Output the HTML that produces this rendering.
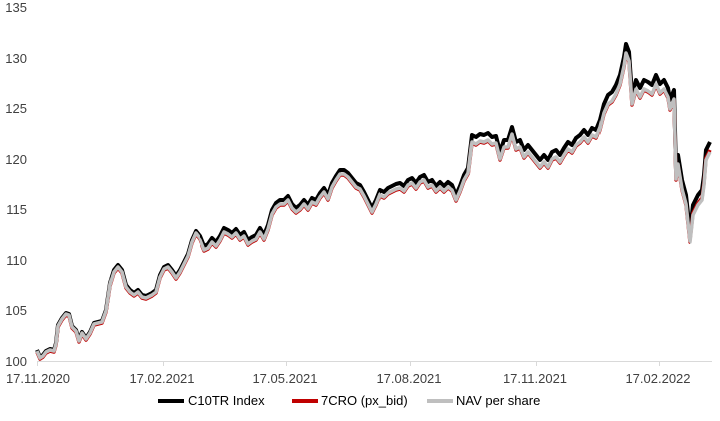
<!DOCTYPE html>
<html><head><meta charset="utf-8"><style>
body{margin:0;background:#fff;}
svg{display:block;font-family:"Liberation Sans",sans-serif;}
</style></head><body>
<svg width="720" height="421" xmlns="http://www.w3.org/2000/svg" xmlns:xlink="http://www.w3.org/1999/xlink">
<defs>
<path id="s" fill="none" stroke-linejoin="round" d="M37,350L40,357L43,355L46,351L50,349L54,350L56,343L58,325L62,318L66,313L69,314L72,326L76,330L79,340L82,332L86,338L90,332L94,323L98,322L102,321L106,310L110,283L114,270L118,265L122,270L126,285L130,290L134,293L138,290L142,295L146,296L152,293L156,290L160,275L164,267L168,265L172,270L176,276L180,270L184,262L188,254L192,240L196,231L200,236L204,246L208,244L212,238L216,242L220,236L224,228L228,230L232,233L236,229L240,235L244,232L248,240L252,237L256,235L260,228L264,235L268,225L272,210L276,203L280,200L284,200L288,196L292,204L296,208L300,205L304,200L308,205L312,198L316,200L320,193L324,188L328,195L332,183L336,176L340,170L344,170L348,173L352,178L356,183L360,185L364,192L368,200L372,208L376,200L380,190L384,192L388,188L392,186L396,184L400,183L404,186L408,180L412,178L416,183L420,177L424,175L428,182L432,180L436,186L440,182L444,186L448,182L452,185L456,195L460,186L464,175L468,168L472,135L476,137L480,134L484,135L488,133L492,137L496,136L500,152L504,140L508,140L512,127L516,142L520,140L524,150L528,145L532,150L536,155L540,160L544,155L548,160L552,152L556,150L560,155L564,148L568,142L572,145L576,138L580,135L584,130L588,135L592,128L596,130L600,120L604,104L608,95L612,92L616,85L620,75L624,57L626,44L629,52L632,95L636,80L640,88L644,80L648,82L652,85L656,75L660,84L664,80L668,88L670,100L674,90L676,170L678,155L682,180L686,195L690,232L693,205L698,195L702,190L704,175L706,150L710,142"/>
<clipPath id="c1"><rect x="0" y="0" width="110" height="421"/></clipPath>
<clipPath id="c2"><rect x="110" y="0" width="90" height="421"/></clipPath>
<clipPath id="c3"><rect x="200" y="0" width="180" height="421"/></clipPath>
<clipPath id="c3b"><rect x="380" y="0" width="90" height="421"/></clipPath>
<clipPath id="c4"><rect x="470" y="0" width="130" height="421"/></clipPath>
<clipPath id="c5"><rect x="600" y="0" width="90" height="421"/></clipPath>
<clipPath id="c6"><rect x="690" y="0" width="30" height="421"/></clipPath>
</defs>
<g font-size="13" fill="#404040" text-anchor="end">
<text x="27" y="12">135</text><text x="27" y="63">130</text><text x="27" y="113">125</text>
<text x="27" y="164">120</text><text x="27" y="214">115</text><text x="27" y="265">110</text>
<text x="27" y="315">105</text><text x="27" y="366">100</text>
</g>
<line x1="37" y1="361.5" x2="712" y2="361.5" stroke="#d9d9d9" stroke-width="1"/>
<g stroke="#d9d9d9"><line x1="37.5" y1="361" x2="37.5" y2="366"/><line x1="163.5" y1="361" x2="163.5" y2="366"/><line x1="286.5" y1="361" x2="286.5" y2="366"/><line x1="410.5" y1="361" x2="410.5" y2="366"/><line x1="536.5" y1="361" x2="536.5" y2="366"/><line x1="659.5" y1="361" x2="659.5" y2="366"/></g>
<g font-size="13" fill="#404040" text-anchor="middle">
<text x="38" y="383">17.11.2020</text><text x="162" y="383">17.02.2021</text><text x="285" y="383">17.05.2021</text>
<text x="409" y="383">17.08.2021</text><text x="535" y="383">17.11.2021</text><text x="658" y="383">17.02.2022</text>
</g>
<use xlink:href="#s" href="#s" stroke="#000" stroke-width="4"/>
<g stroke="#c00000" stroke-width="3.5">
<g clip-path="url(#c1)"><use href="#s" xlink:href="#s" transform="translate(0,2)"/></g>
<g clip-path="url(#c2)"><use href="#s" xlink:href="#s" transform="translate(0,3)"/></g>
<g clip-path="url(#c3)"><use href="#s" xlink:href="#s" transform="translate(0,5)"/></g>
<g clip-path="url(#c3b)"><use href="#s" xlink:href="#s" transform="translate(0,6)"/></g>
<g clip-path="url(#c4)"><use href="#s" xlink:href="#s" transform="translate(0,8)"/></g>
<g clip-path="url(#c5)"><use href="#s" xlink:href="#s" transform="translate(0,10)"/></g>
<g clip-path="url(#c6)"><use href="#s" xlink:href="#s" transform="translate(0,8)"/></g>
</g>
<g stroke="#bfbfbf" stroke-width="3.5">
<g clip-path="url(#c1)"><use href="#s" xlink:href="#s" transform="translate(0,1)"/></g>
<g clip-path="url(#c2)"><use href="#s" xlink:href="#s" transform="translate(0,2)"/></g>
<g clip-path="url(#c3)"><use href="#s" xlink:href="#s" transform="translate(0,4)"/></g>
<g clip-path="url(#c3b)"><use href="#s" xlink:href="#s" transform="translate(0,5)"/></g>
<g clip-path="url(#c4)"><use href="#s" xlink:href="#s" transform="translate(0,7)"/></g>
<g clip-path="url(#c5)"><use href="#s" xlink:href="#s" transform="translate(0,9)"/></g>
<g clip-path="url(#c6)"><use href="#s" xlink:href="#s" transform="translate(0,10)"/></g>
</g>
<g font-size="13" fill="#000">
<line x1="158" y1="401" x2="184" y2="401" stroke="#000" stroke-width="4"/><text x="188" y="405">C10TR Index</text>
<line x1="292" y1="401" x2="318" y2="401" stroke="#c00000" stroke-width="4"/><text x="321" y="405">7CRO (px_bid)</text>
<line x1="427" y1="401" x2="453" y2="401" stroke="#bfbfbf" stroke-width="4"/><text x="456" y="405">NAV per share</text>
</g>
</svg>
</body></html>
